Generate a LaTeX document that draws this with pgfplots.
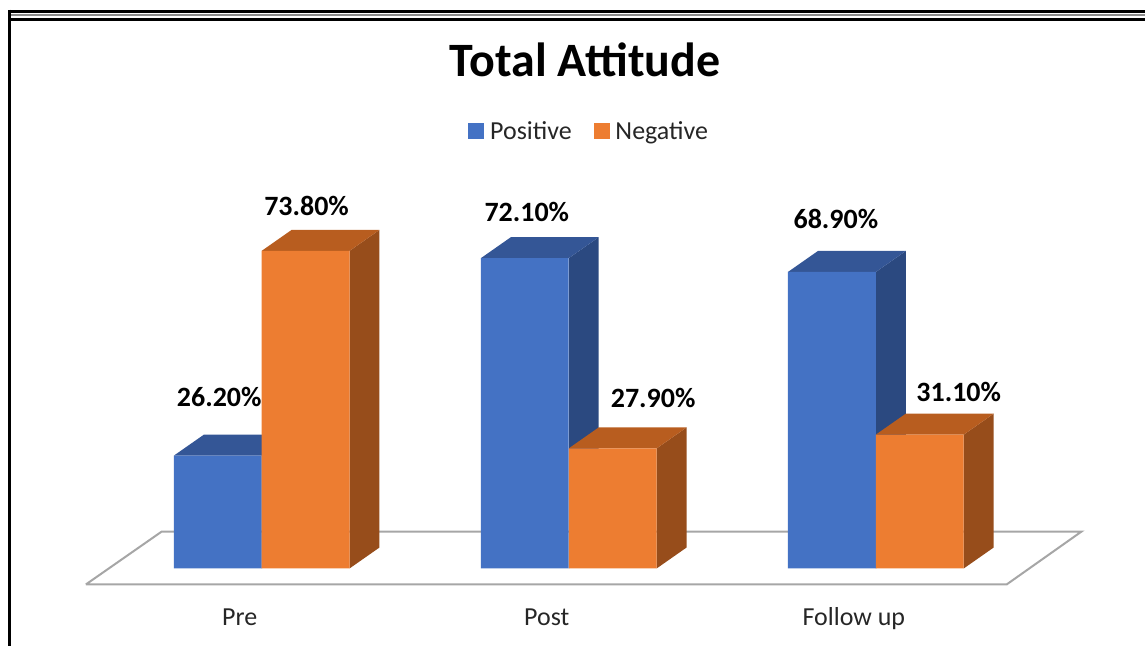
\documentclass[border=0pt]{standalone}
\usepackage{fontspec}
\setmainfont{Carlito}
\usepackage{pgfplots}
\pgfplotsset{compat=1.18}
\usepackage{pgfplotstable}

\definecolor{bfront}{HTML}{4472C4}
\definecolor{btop}{HTML}{345696}
\definecolor{bside}{HTML}{2B4980}
\definecolor{ofront}{HTML}{ED7D31}
\definecolor{otop}{HTML}{B85D1F}
\definecolor{oside}{HTML}{974D1B}
\definecolor{floorgray}{HTML}{A6A6A6}

% x = category index, y = percent, lx/ly = label offsets (pt)
\pgfplotstableread{
x y lx ly
0 26.2 -21.25 24.5
1 72.1 -21 18.5
2 68.9 -20 22
}\tabpos
\pgfplotstableread{
x y lx ly
0 73.8 22.5 17.5
1 27.9 42.25 20.5
2 31.1 41.5 16.5
}\tabneg

\newcommand\bw{0.28618}
\newcommand\hbw{0.14309}
\newcommand\ddx{0.09756}
\newcommand\ddy{4.873}

\newcommand\faces[4]{%
 \pgfmathsetmacro\xL{#1}%
 \pgfmathsetmacro\xR{#2}%
 \pgfmathsetmacro\xLd{#1+\ddx}%
 \pgfmathsetmacro\xRd{#2+\ddx}%
 \pgfmathsetmacro\vT{#3+\ddy}%
 \addplot[forget plot,draw=none,fill=#4side,mark=none] coordinates {(\xR,0) (\xRd,\ddy) (\xRd,\vT) (\xR,#3)};
 \addplot[forget plot,draw=none,fill=#4top,mark=none] coordinates {(\xL,#3) (\xLd,\vT) (\xRd,\vT) (\xR,#3)};
}

\begin{document}
\begin{tikzpicture}
\begin{axis}[
 scale only axis, width=573pt, height=323.5pt,
 xmin=-0.8520, xmax=2.8748, ymin=-18.10, ymax=132.05,
 enlargelimits=false,
 axis line style={draw=none},
 major tick length=0pt,
 ytick=\empty,
 xtick={0,1,2}, xticklabels={Pre,Post,Follow up},
 xticklabel style={anchor=base, yshift=10.5pt, xshift=-11pt, font=\fontsize{13}{15}\selectfont, text=black!85},
 title={Total Attitude},
 title style={at={(axis description cs:0.5113,0.864)}, anchor=base, font=\bfseries\fontsize{24}{28}\selectfont},
 legend style={at={(axis description cs:0.5148,0.7955)}, anchor=center, draw=none, fill=none,
   legend columns=2, font=\fontsize{13}{15}\selectfont, text=black!85,
   nodes={inner sep=1pt},
   /tikz/every odd column/.append style={column sep=2pt},
   /tikz/every even column/.append style={column sep=10pt}},
 /pgf/number format/assume math mode=true,
]
\addlegendimage{legend image code/.code={\fill[bfront] (0pt,-3pt) rectangle (7.5pt,4.5pt);}}
\addlegendentry{Positive}
\addlegendimage{legend image code/.code={\fill[ofront] (0pt,-3pt) rectangle (7.5pt,4.5pt);}}
\addlegendentry{Negative}

\addplot[forget plot, draw=floorgray, line width=1pt, fill=white, mark=none]
  coordinates {(-0.5724,-3.713) (2.4260,-3.713) (2.6699,8.587) (-0.3252,8.587) (-0.5724,-3.713)};

\faces{-\bw}{0}{26.2}{b}
\faces{1-\bw}{1}{72.1}{b}
\faces{2-\bw}{2}{68.9}{b}
\addplot[forget plot, ybar, bar width=\bw, bar shift=-\hbw, fill=bfront, draw=none,
  visualization depends on={\thisrow{lx}\as\lx},
  visualization depends on={\thisrow{ly}\as\ly},
  nodes near coords={\pgfmathprintnumber[fixed,fixed zerofill,precision=2]{\pgfplotspointmeta}\%},
  every node near coord/.append style={anchor=base, xshift=\lx pt, yshift=\ly pt, inner sep=0pt,
     font=\bfseries\fontsize{14}{16}\selectfont, text=black}]
  table[x=x,y=y]{\tabpos};

\faces{0}{\bw}{73.8}{o}
\faces{1}{1+\bw}{27.9}{o}
\faces{2}{2+\bw}{31.1}{o}
\addplot[forget plot, ybar, bar width=\bw, bar shift=\hbw, fill=ofront, draw=none,
  visualization depends on={\thisrow{lx}\as\lx},
  visualization depends on={\thisrow{ly}\as\ly},
  nodes near coords={\pgfmathprintnumber[fixed,fixed zerofill,precision=2]{\pgfplotspointmeta}\%},
  every node near coord/.append style={anchor=base, xshift=\lx pt, yshift=\ly pt, inner sep=0pt,
     font=\bfseries\fontsize{14}{16}\selectfont, text=black}]
  table[x=x,y=y]{\tabneg};
\end{axis}
\draw[line width=1.5pt] (4.25pt,318pt) -- (573pt,318pt);
\draw[line width=1pt, black!45] (5.75pt,316pt) -- (573pt,316pt);
\draw[line width=1.5pt] (5.75pt,314pt) -- (573pt,314pt);
\draw[line width=1.5pt] (5pt,318.75pt) -- (5pt,0pt);
\path (0,0) rectangle (573pt,323.5pt);
\end{tikzpicture}
\end{document}
